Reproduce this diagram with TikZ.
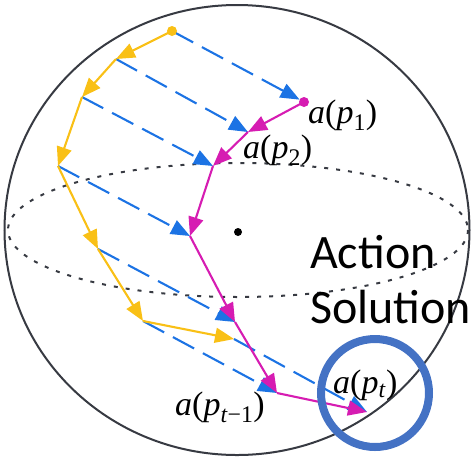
\documentclass[tikz,border=0pt]{standalone}
\usepackage{fontspec}
\newfontfamily\calibri{Carlito}
\newfontfamily\tms{Liberation Serif}
\usetikzlibrary{arrows.meta}
\definecolor{ylw}{RGB}{249,192,22}
\definecolor{mag}{RGB}{214,28,178}
\definecolor{blu}{RGB}{28,115,228}
\definecolor{ringc}{RGB}{68,114,196}
\definecolor{outl}{RGB}{55,58,66}
\newcommand{\lab}[1]{\textit{a}(\textit{p}\textsubscript{#1})}
\tikzset{
  tipshape/.style={-{Triangle[length=19pt,width=15pt]}},
  ypath/.style={draw=ylw, line width=2.1pt, tipshape},
  mpath/.style={draw=mag, line width=2.1pt, tipshape},
  bdash/.style={draw=blu, line width=2.1pt, dash pattern=on 24pt off 10pt, tipshape},
  lbl/.style={font=\tms\fontsize{34}{38}\selectfont, inner sep=0pt},
  bigtxt/.style={font=\calibri\fontsize{48}{55}\selectfont, inner sep=0pt}
}
\begin{document}
\begin{tikzpicture}[x=1pt,y=-1pt]
\useasboundingbox (0,0) rectangle (471,459);
% sphere
\draw[outl, line width=2pt] (237,230) ellipse[x radius=232.5, y radius=225];
\draw[outl, line width=2pt, dash pattern=on 4pt off 8pt] (238,230) ellipse[x radius=230, y radius=67];
\coordinate (c) at (238,232);
\fill[black] (c) circle[radius=4];
% points
\coordinate (y1) at (172,31);
\coordinate (y2) at (116,59);
\coordinate (y3) at (82,97);
\coordinate (y4) at (58,166);
\coordinate (y5) at (98,249);
\coordinate (y6) at (143,321);
\coordinate (y7) at (234,339);
\coordinate (m1) at (304,102);
\coordinate (m2) at (248,132);
\coordinate (m3) at (213,166);
\coordinate (m4) at (190,236);
\coordinate (m5) at (235,322);
\coordinate (m6) at (277,393);
\coordinate (m7) at (367,412);
% blue dashed arrows
\draw[bdash, shorten >=5pt] (y1) -- (m1);
\draw[bdash] (y2) -- (m2);
\draw[bdash] (y3) -- (m3);
\draw[bdash] (y4) -- (m4);
\draw[bdash] (y5) -- (m5);
\draw[bdash] (y6) -- (m6);
\draw[bdash] (y7) -- (m7);
% yellow path
\draw[ypath] (y1) -- (y2);
\draw[ypath] (y2) -- (y3);
\draw[ypath] (y3) -- (y4);
\draw[ypath] (y4) -- (y5);
\draw[ypath] (y5) -- (y6);
\draw[ypath] (y6) -- (y7);
\fill[ylw] (y1) circle[radius=5];
% magenta path
\draw[mpath] (m1) -- (m2);
\draw[mpath] (m2) -- (m3);
\draw[mpath] (m3) -- (m4);
\draw[mpath] (m4) -- (m5);
\draw[mpath] (m5) -- (m6);
\draw[mpath] (m6) -- (m7);
\fill[mag] (m1) circle[radius=5];
% labels
\node[lbl, anchor=base west] (l1) at (308,123) {\lab{1}};
\node[lbl, anchor=base west] (l2) at (243,158) {\lab{2}};
\node[lbl, anchor=base west] (l3) at (175,415) {\lab{\textit{t}−1}};
\node[lbl, anchor=base west] (l4) at (333,393) {\lab{\textit{t}}};
\node[bigtxt, anchor=base west] (t1) at (310,268) {Action};
\node[bigtxt, anchor=base west] (t2) at (310,323) {Solution};
% ring
\draw[ringc, line width=8pt] (375,393) circle[radius=54];
\end{tikzpicture}
\end{document}
